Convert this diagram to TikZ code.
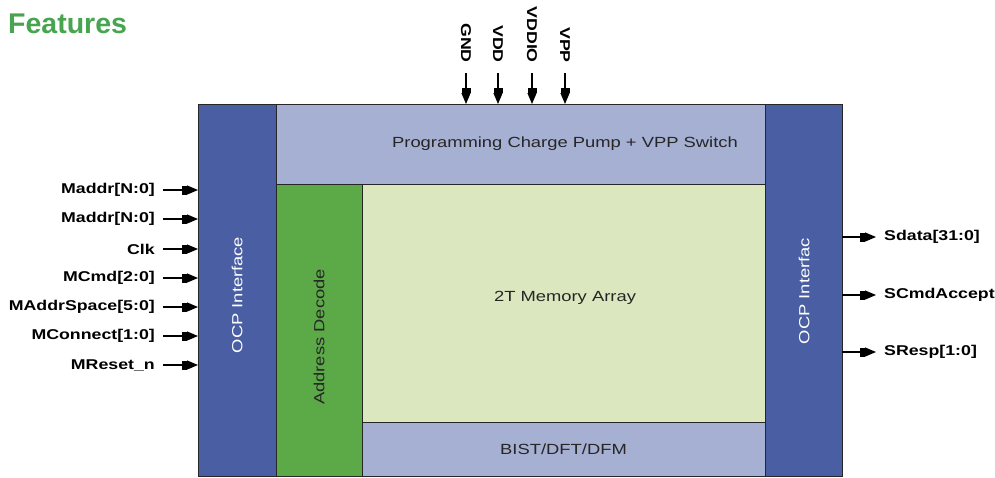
\documentclass[tikz,border=0pt]{standalone}
\usepackage{fontspec}
\setmainfont{Liberation Sans}
\newfontfamily\diagfont[FakeStretch=1.25]{Liberation Sans}
\usepackage{tikz}
\usetikzlibrary{arrows.meta,positioning,calc}
\definecolor{ocpblue}{HTML}{4A5FA3}
\definecolor{pumpblue}{HTML}{A6B0D3}
\definecolor{decgreen}{HTML}{5BAA47}
\definecolor{memgreen}{HTML}{DAE7BF}
\definecolor{titlegreen}{HTML}{47A44F}
\tikzset{
  blk/.style={draw=black!85, line width=1pt, anchor=north west, inner sep=0pt, outer sep=0pt},
  txt/.style={font=\diagfont\fontsize{14.7}{16}\selectfont, text=black!85, inner sep=0pt},
  vtxt/.style={txt, rotate=90},
  pinlbl/.style={font=\diagfont\bfseries\fontsize{14.2}{15}\selectfont, inner sep=0pt},
  pinarrow/.style={-{Rectangle[length=5pt,width=9pt]Triangle[length=11pt,width=9pt]}, line width=1.2pt}
}
\begin{document}
\begin{tikzpicture}[x=1pt, y=-1pt]
\useasboundingbox (0,0) rectangle (995,477);
\node[anchor=base west, inner sep=0pt, text=titlegreen, font=\bfseries\fontsize{28.5}{30}\selectfont] (title) at (8,33) {Features};
% blocks
\node[blk, fill=ocpblue, minimum width=78, minimum height=372] (ocpl) at (198,104) {};
\node[blk, fill=pumpblue, minimum width=489, minimum height=80] (pump) at (276,104) {};
\node[blk, fill=ocpblue, minimum width=77, minimum height=372] (ocpr) at (765,104) {};
\node[blk, fill=decgreen, minimum width=86, minimum height=292] (addr) at (276,184) {};
\node[blk, fill=memgreen, minimum width=403, minimum height=238] (mem) at (362,184) {};
\node[blk, fill=pumpblue, minimum width=403, minimum height=54] (bist) at (362,422) {};
% block texts
\node[vtxt, text=white] (ocpltxt) at (237,295) {OCP Interface};
\node[vtxt, text=white] (ocprtxt) at (804,291) {OCP Interfac};
\node[vtxt] (addrtxt) at (319,337) {Address Decode};
\node[txt] (pumptxt) at (565,144) {Programming Charge Pump + VPP Switch};
\node[txt] (memtxt) at (565,298) {2T Memory Array};
\node[txt] (bisttxt) at (bist.center) {BIST/DFT/DFM};
% left pins
\node[pinlbl, anchor=east] (maddr) at (155,190) {Maddr[N:0]};
\node[pinlbl, anchor=east] (mdata) at (155,219) {Maddr[N:0]};
\node[pinlbl, anchor=east] (clk) at (155,249) {Clk};
\node[pinlbl, anchor=east] (mcmd) at (155,278) {MCmd[2:0]};
\node[pinlbl, anchor=east] (mspace) at (155,307) {MAddrSpace[5:0]};
\node[pinlbl, anchor=east] (mconn) at (155,336) {MConnect[1:0]};
\node[pinlbl, anchor=east] (mreset) at (155,365) {MReset\_n};
\draw[pinarrow] ([xshift=8pt]maddr.east) -- (maddr.east -| ocpl.west);
\draw[pinarrow] ([xshift=8pt]mdata.east) -- (mdata.east -| ocpl.west);
\draw[pinarrow] ([xshift=8pt]clk.east) -- (clk.east -| ocpl.west);
\draw[pinarrow] ([xshift=8pt]mcmd.east) -- (mcmd.east -| ocpl.west);
\draw[pinarrow] ([xshift=8pt]mspace.east) -- (mspace.east -| ocpl.west);
\draw[pinarrow] ([xshift=8pt]mconn.east) -- (mconn.east -| ocpl.west);
\draw[pinarrow] ([xshift=8pt]mreset.east) -- (mreset.east -| ocpl.west);
% top pins
\node[pinlbl, rotate=-90, anchor=east] (gnd) at (466,63) {GND};
\node[pinlbl, rotate=-90, anchor=east] (vdd) at (498,63) {VDD};
\node[pinlbl, rotate=-90, anchor=east] (vddio) at (532,63) {VDDIO};
\node[pinlbl, rotate=-90, anchor=east] (vpp) at (565,63) {VPP};
\draw[pinarrow] ([yshift=-10pt]gnd.east) -- (gnd.east |- pump.north);
\draw[pinarrow] ([yshift=-10pt]vdd.east) -- (vdd.east |- pump.north);
\draw[pinarrow] ([yshift=-10pt]vddio.east) -- (vddio.east |- pump.north);
\draw[pinarrow] ([yshift=-10pt]vpp.east) -- (vpp.east |- pump.north);
% right pins
\node[pinlbl, anchor=west] (sdata) at (884,237) {Sdata[31:0]};
\node[pinlbl, anchor=west] (scmd) at (884,295) {SCmdAccept};
\node[pinlbl, anchor=west] (sresp) at (884,352) {SResp[1:0]};
\draw[pinarrow] (sdata.west -| ocpr.east) -- ([xshift=-8pt]sdata.west);
\draw[pinarrow] (scmd.west -| ocpr.east) -- ([xshift=-8pt]scmd.west);
\draw[pinarrow] (sresp.west -| ocpr.east) -- ([xshift=-8pt]sresp.west);
\end{tikzpicture}
\end{document}
